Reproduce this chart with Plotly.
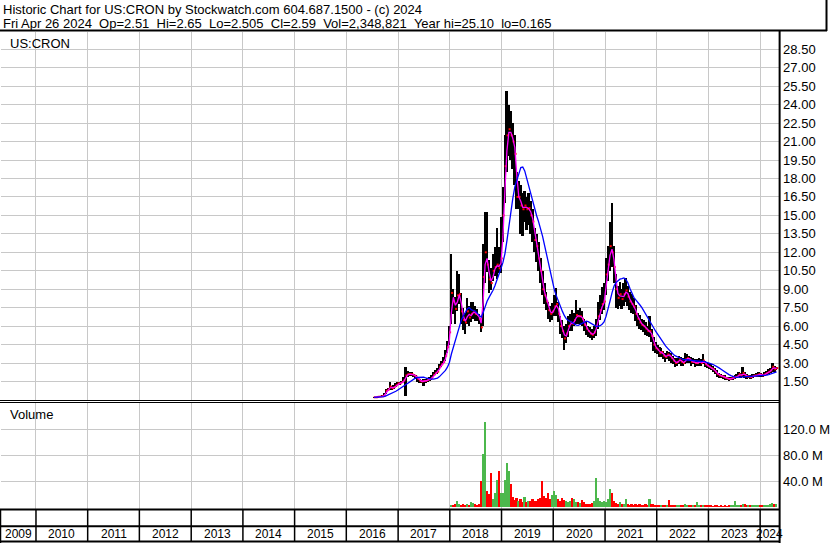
import pandas as pd
import plotly.graph_objects as go

# ---------------- DATA (bi-weekly bars, Jul 2016 .. Apr 26 2024) ----------------
close_2016 = [0.22, 0.22, 0.26, 0.28, 0.30, 0.35, 0.75, 0.85, 1.10, 0.95, 1.05, 1.20, 1.35]
high_2016 = [0.24, 0.24, 0.28, 0.30, 0.33, 0.55, 0.90, 1.00, 1.50, 1.15, 1.20, 1.35, 1.50]
low_2016 = [0.20, 0.20, 0.23, 0.25, 0.27, 0.30, 0.45, 0.70, 0.85, 0.80, 0.90, 1.05, 1.20]

close_2017 = [1.35, 1.45, 1.60, 2.00, 2.10, 2.10, 2.10, 2.00, 1.90, 1.70, 1.55, 1.50, 1.55,
              1.55, 1.65, 1.70, 1.80, 2.05, 2.20, 2.30, 2.70, 2.90, 3.10, 3.60, 4.30, 5.50]
high_2017 = [1.45, 1.55, 1.85, 2.70, 2.35, 2.25, 2.25, 2.15, 2.05, 1.85, 1.70, 1.65, 1.70,
             1.70, 1.80, 1.85, 2.00, 2.25, 2.40, 2.60, 2.95, 3.15, 3.50, 4.10, 4.80, 6.00]
low_2017 = [1.20, 1.35, 1.45, 0.30, 1.90, 1.95, 1.95, 1.85, 1.70, 1.50, 1.40, 1.35, 1.10,
            1.40, 1.50, 1.55, 1.65, 1.85, 2.00, 2.15, 2.40, 2.70, 2.90, 3.20, 3.80, 4.50]

close_2018 = [8.7, 8.0, 7.4, 8.5, 8.6, 7.2, 6.5, 6.3, 7.2, 6.7, 7.0, 7.2, 7.0,
              6.9, 6.6, 5.9, 10.0, 12.0, 11.0, 9.8, 9.5, 10.5, 10.8, 11.0, 10.7, 11.5]
high_2018 = [11.9, 9.0, 8.4, 10.5, 10.2, 8.7, 7.5, 7.1, 8.3, 7.6, 8.0, 8.0, 7.6,
             7.4, 7.0, 6.6, 12.7, 15.3, 15.3, 11.4, 10.7, 11.9, 12.4, 14.0, 12.4, 14.9]
low_2018 = [6.2, 7.0, 6.2, 7.2, 7.8, 6.2, 5.7, 5.4, 6.2, 6.0, 6.3, 6.6, 6.4,
            6.4, 6.2, 5.5, 6.0, 9.5, 10.4, 8.7, 8.9, 9.7, 10.1, 9.8, 10.3, 10.3]

close_2019 = [15.0, 19.0, 21.5, 22.0, 21.5, 21.0, 20.0, 16.5, 16.5, 15.8, 15.5, 15.8, 15.5,
              15.6, 15.0, 14.5, 13.0, 12.5, 11.5, 10.5, 9.0, 8.5, 8.0, 7.3, 7.0, 7.2]
high_2019 = [17.3, 21.5, 25.1, 24.0, 23.5, 22.5, 21.5, 18.5, 17.8, 17.5, 16.8, 17.0, 16.5,
             16.8, 16.2, 15.5, 14.0, 13.5, 12.8, 11.5, 10.5, 9.5, 8.8, 8.0, 7.6, 7.9]
low_2019 = [12.8, 16.0, 18.5, 19.8, 19.5, 18.8, 17.5, 15.5, 15.5, 13.5, 13.3, 14.5, 13.8,
            14.2, 13.5, 12.8, 12.0, 11.2, 10.5, 9.5, 8.5, 7.8, 7.3, 6.6, 6.3, 6.5]

close_2020 = [7.6, 7.8, 7.0, 6.0, 5.6, 5.0, 5.4, 6.0, 6.3, 6.2, 6.5, 6.9, 6.8,
              6.8, 6.6, 6.1, 5.8, 5.6, 5.4, 5.3, 5.5, 6.0, 6.8, 7.3, 7.8, 8.0]
high_2020 = [8.5, 9.1, 8.0, 6.8, 6.5, 6.0, 6.2, 6.8, 7.0, 7.3, 7.1, 8.1, 7.3,
             7.5, 7.2, 6.6, 6.3, 6.0, 5.9, 5.8, 6.0, 6.6, 8.0, 8.5, 9.2, 9.5]
low_2020 = [6.8, 6.8, 6.3, 5.4, 5.0, 4.1, 4.6, 5.1, 5.6, 5.6, 6.0, 6.2, 6.2,
            6.1, 6.0, 5.6, 5.3, 5.1, 5.0, 4.9, 5.0, 5.2, 5.8, 6.5, 7.0, 7.3]

close_2021 = [10.2, 11.0, 12.5, 12.0, 10.8, 9.0, 8.3, 8.6, 8.2, 8.6, 8.9, 8.4, 8.0,
              7.8, 7.6, 7.0, 6.6, 6.3, 6.1, 6.0, 5.8, 5.6, 5.6, 5.2, 4.5, 4.2]
high_2021 = [11.5, 12.5, 14.5, 16.0, 12.5, 10.2, 9.3, 9.6, 9.0, 9.5, 9.9, 9.3, 8.8,
             8.6, 8.3, 7.7, 7.1, 6.9, 6.6, 6.5, 6.3, 6.0, 6.8, 5.8, 5.1, 4.7]
low_2021 = [8.5, 9.7, 10.5, 10.8, 9.5, 7.5, 7.4, 7.6, 7.4, 7.6, 8.0, 7.6, 7.3,
            7.1, 7.0, 6.4, 6.0, 5.8, 5.7, 5.5, 5.3, 5.2, 5.1, 4.7, 4.0, 3.8]

close_2022 = [4.1, 3.8, 3.9, 3.6, 3.5, 3.7, 3.6, 3.4, 3.2, 3.0, 3.1, 3.3, 3.1,
              3.0, 3.3, 3.4, 3.3, 3.1, 3.1, 3.0, 3.0, 3.1, 3.0, 3.2, 2.9, 2.8]
high_2022 = [4.5, 4.3, 4.2, 4.0, 3.8, 4.0, 3.9, 3.8, 3.6, 3.4, 3.4, 3.6, 3.5,
             3.4, 3.8, 3.7, 3.6, 3.5, 3.4, 3.3, 3.3, 3.4, 3.3, 3.7, 3.2, 3.1]
low_2022 = [3.7, 3.5, 3.5, 3.3, 3.1, 3.3, 3.2, 3.0, 2.9, 2.7, 2.8, 2.9, 2.8,
            2.8, 2.9, 3.0, 3.0, 2.8, 2.9, 2.7, 2.8, 2.8, 2.8, 2.9, 2.7, 2.6]

close_2023 = [2.7, 2.6, 2.5, 2.3, 2.1, 2.0, 1.95, 1.9, 1.8, 1.75, 1.7, 1.75, 1.8,
              1.85, 1.9, 2.1, 2.0, 2.2, 2.0, 1.9, 1.9, 1.85, 1.95, 2.0, 2.0, 2.1]
high_2023 = [3.0, 2.9, 2.8, 2.6, 2.4, 2.2, 2.1, 2.05, 2.0, 1.9, 1.85, 1.9, 1.95,
             2.0, 2.1, 2.3, 2.2, 2.7, 2.3, 2.1, 2.05, 2.0, 2.1, 2.15, 2.2, 2.25]
low_2023 = [2.5, 2.4, 2.3, 2.1, 1.9, 1.8, 1.8, 1.7, 1.65, 1.6, 1.55, 1.6, 1.65,
            1.7, 1.75, 1.85, 1.8, 1.9, 1.8, 1.7, 1.75, 1.7, 1.8, 1.85, 1.85, 1.9]

close_2024 = [2.05, 2.0, 2.1, 2.2, 2.3, 2.4, 2.7, 2.5, 2.59]
high_2024 = [2.2, 2.15, 2.25, 2.35, 2.5, 2.6, 3.0, 2.8, 2.65]
low_2024 = [1.9, 1.85, 1.95, 2.0, 2.1, 2.2, 2.3, 2.3, 2.505]

# volume in millions of shares (shown from Jan 2018 on)
volume_2018 = [2, 3, 4, 9, 5, 3, 4, 3, 4, 3, 7, 6, 4, 3, 5, 40, 82, 131, 25, 20, 53, 12, 22, 41, 56, 22]
volume_2019 = [22, 41, 68, 55, 35, 15, 11, 14, 9, 12, 8, 15, 7, 10, 9, 12, 9, 10, 13, 14, 40, 17, 14, 22, 12, 18]
volume_2020 = [25, 18, 12, 10, 14, 11, 9, 8, 10, 14, 13, 8, 7, 6, 11, 8, 5, 4, 5, 6, 9, 44, 14, 10, 7, 9]
volume_2021 = [8, 12, 28, 22, 10, 6, 5, 7, 4, 5, 12, 4, 3, 5, 3, 4, 3, 4, 3, 3, 4, 3, 12, 5, 4, 3]
volume_2022 = [3, 3, 2, 3, 2, 3, 11, 2, 3, 2, 3, 2, 2, 3, 4, 2, 2, 3, 2, 3, 7, 2, 2, 3, 2, 2]
volume_2023 = [2, 2, 1.5, 2, 2, 1.5, 2, 1.5, 2, 1.5, 2, 2, 2, 9, 3, 2, 3, 5, 5, 3, 2, 2, 2, 2, 2, 3]
volume_2024 = [3, 3, 2, 3, 3, 4, 6, 5, 4]

price_ticks = [1.5, 3.0, 4.5, 6.0, 7.5, 9.0, 10.5, 12.0, 13.5, 15.0, 16.5, 18.0, 19.5,
               21.0, 22.5, 24.0, 25.5, 27.0, 28.5]
price_tick_text = ["1.50", "3.00", "4.50", "6.00", "7.50", "9.00", "10.50", "12.00", "13.50",
                   "15.00", "16.50", "18.00", "19.50", "21.00", "22.50", "24.00", "25.50",
                   "27.00", "28.50"]
vol_ticks = [40, 80, 120]
vol_tick_text = ["40.0 M", "80.0 M", "120.0 M"]
year_labels = ["2009", "2010", "2011", "2012", "2013", "2014", "2015", "2016",
               "2017", "2018", "2019", "2020", "2021", "2022", "2023", "2024"]

title_line1 = "Historic Chart for US:CRON by Stockwatch.com 604.687.1500 - (c) 2024"
title_line2_parts = ["Fri Apr 26 2024", "Op=2.51", "Hi=2.65", "Lo=2.505", "Cl=2.59",
                     "Vol=2,348,821", "Year hi=25.10", "lo=0.165"]
symbol_label = "US:CRON"
volume_label = "Volume"

# ---------------- assemble ----------------
close = close_2016 + close_2017 + close_2018 + close_2019 + close_2020 + close_2021 + close_2022 + close_2023 + close_2024
high = high_2016 + high_2017 + high_2018 + high_2019 + high_2020 + high_2021 + high_2022 + high_2023 + high_2024
low = low_2016 + low_2017 + low_2018 + low_2019 + low_2020 + low_2021 + low_2022 + low_2023 + low_2024
volume_m = volume_2018 + volume_2019 + volume_2020 + volume_2021 + volume_2022 + volume_2023 + volume_2024
if not (len(close) == len(high) == len(low)):
    raise SystemExit(f"length mismatch {len(close)} {len(high)} {len(low)}")

dates = pd.date_range(end="2024-04-26", periods=len(close), freq="14D")
vol_dates = dates[-len(volume_m):]

s = pd.Series(close)
ma_fast = s.rolling(2, min_periods=1).mean()
ma_slow = s.rolling(10, min_periods=1).mean()

nv = len(volume_m)
vol_close = close[-nv:]
vol_prev = close[-nv - 1:-1]
vol_colors = ["#4cb84c" if c >= p else "#ff0000" for c, p in zip(vol_close, vol_prev)]

W, H = 830, 543
def fx(px):
    return px / W
def fy(px):
    return 1 - px / H

X0 = pd.Timestamp("2009-04-29")
X1 = pd.Timestamp("2024-05-14")
DAY_MS = 86400000
GRID = "#c8c8c8"
FONT = "Arial, 'Liberation Sans', sans-serif"

fig = go.Figure()
fig.add_trace(go.Bar(x=dates, y=[h - l for h, l in zip(high, low)], base=low,
                     width=13 * DAY_MS, marker=dict(color="black", line=dict(width=0)),
                     xaxis="x", yaxis="y", hoverinfo="skip"))
fig.add_trace(go.Scatter(x=dates + pd.Timedelta(days=5), y=close, mode="markers",
                         marker=dict(symbol="square", size=2, color="#ff0000", line=dict(width=0)),
                         xaxis="x", yaxis="y", hoverinfo="skip"))
fig.add_trace(go.Scatter(x=dates, y=ma_fast, mode="lines", line=dict(color="#ff00ff", width=1.3),
                         xaxis="x", yaxis="y", hoverinfo="skip"))
fig.add_trace(go.Scatter(x=dates, y=ma_slow, mode="lines", line=dict(color="#0000ff", width=1.3),
                         xaxis="x", yaxis="y", hoverinfo="skip"))
fig.add_trace(go.Bar(x=vol_dates, y=volume_m, width=12 * DAY_MS,
                     marker=dict(color=vol_colors, line=dict(width=0)),
                     xaxis="x2", yaxis="y2", hoverinfo="skip"))

year_starts = [pd.Timestamp(f"{int(y) + 1}-01-01") for y in year_labels[:-1]]

xcommon = dict(domain=[fx(1), fx(781)], range=[X0, X1], tickvals=year_starts,
               showticklabels=False, showgrid=True, gridcolor=GRID, gridwidth=1,
               zeroline=False, showline=False, ticks="")
ycommon = dict(side="right", showgrid=True, gridcolor=GRID, gridwidth=1, zeroline=False,
               showline=False, ticks="", ticklabelstandoff=3,
               tickfont=dict(family=FONT, size=13, color="black"))

fig.update_layout(
    width=W, height=H, margin=dict(l=0, r=0, t=0, b=0),
    paper_bgcolor="white", plot_bgcolor="white", showlegend=False, bargap=0,
    font=dict(family=FONT, size=13, color="black"),
    xaxis=dict(anchor="y", **xcommon),
    yaxis=dict(anchor="x", domain=[fy(400), fy(32)], range=[0, 29.9],
               tickvals=price_ticks, ticktext=price_tick_text, **ycommon),
    xaxis2=dict(anchor="y2", **xcommon),
    yaxis2=dict(anchor="x2", domain=[fy(509), fy(403)], range=[-3.08, 160],
                tickvals=vol_ticks, ticktext=vol_tick_text, **ycommon),
)

shapes = []
def hline(y, x0=0.0, x1=fx(781.5), w=2):
    shapes.append(dict(type="line", xref="paper", yref="paper", x0=x0, x1=x1, y0=fy(y), y1=fy(y),
                       line=dict(color="black", width=w)))
def vline(x, y0, y1, w=2):
    shapes.append(dict(type="line", xref="paper", yref="paper", x0=fx(x), x1=fx(x), y0=fy(y0), y1=fy(y1),
                       line=dict(color="black", width=w)))

hline(30.5, 0.0, fx(829), 2)      # header bottom
vline(828.5, 0, 31, 2)            # header right border
vline(781.5, 30, 543, 2)          # right axis rule
hline(400.5, w=1)                 # double separator
hline(402.5, w=1)
hline(509.5, w=2)                 # volume panel bottom
hline(526.3, w=2)                 # row separator
hline(541.5, w=2)                 # bottom
vline(0.5, 509, 543, 1.5)         # left edge of bottom rows
for ys in year_starts:
    shapes.append(dict(type="line", xref="x2", yref="paper", x0=ys, x1=ys, y0=fy(510), y1=fy(541),
                       line=dict(color="black", width=1.5)))

annotations = [
    dict(text=title_line1, x=fx(1), y=fy(0), xref="paper", yref="paper", xanchor="left",
         yanchor="top", showarrow=False, font=dict(family=FONT, size=13, color="black")),
    dict(text="\u00a0\u00a0".join(title_line2_parts),
         x=fx(1), y=fy(14), xref="paper", yref="paper", xanchor="left",
         yanchor="top", showarrow=False, font=dict(family=FONT, size=13, color="black")),
    dict(text=symbol_label, x=fx(8), y=fy(34), xref="paper", yref="paper", xanchor="left",
         yanchor="top", showarrow=False, font=dict(family=FONT, size=13, color="black")),
    dict(text=volume_label, x=fx(8), y=fy(405), xref="paper", yref="paper", xanchor="left",
         yanchor="top", showarrow=False, font=dict(family=FONT, size=13, color="black")),
]
for lab in year_labels:
    a = max(pd.Timestamp(f"{lab}-01-01"), X0)
    b = min(pd.Timestamp(f"{int(lab) + 1}-01-01"), X1)
    mid = a + (b - a) / 2
    annotations.append(dict(text=lab, x=mid, y=fy(534), xref="x2", yref="paper",
                            xanchor="center", yanchor="middle", showarrow=False,
                            font=dict(family=FONT, size=12, color="black")))

fig.update_layout(shapes=shapes, annotations=annotations)
fig.write_html("out.html", config={"displayModeBar": False},
               post_script="document.body.style.margin='0px';document.body.style.overflow='hidden';")
